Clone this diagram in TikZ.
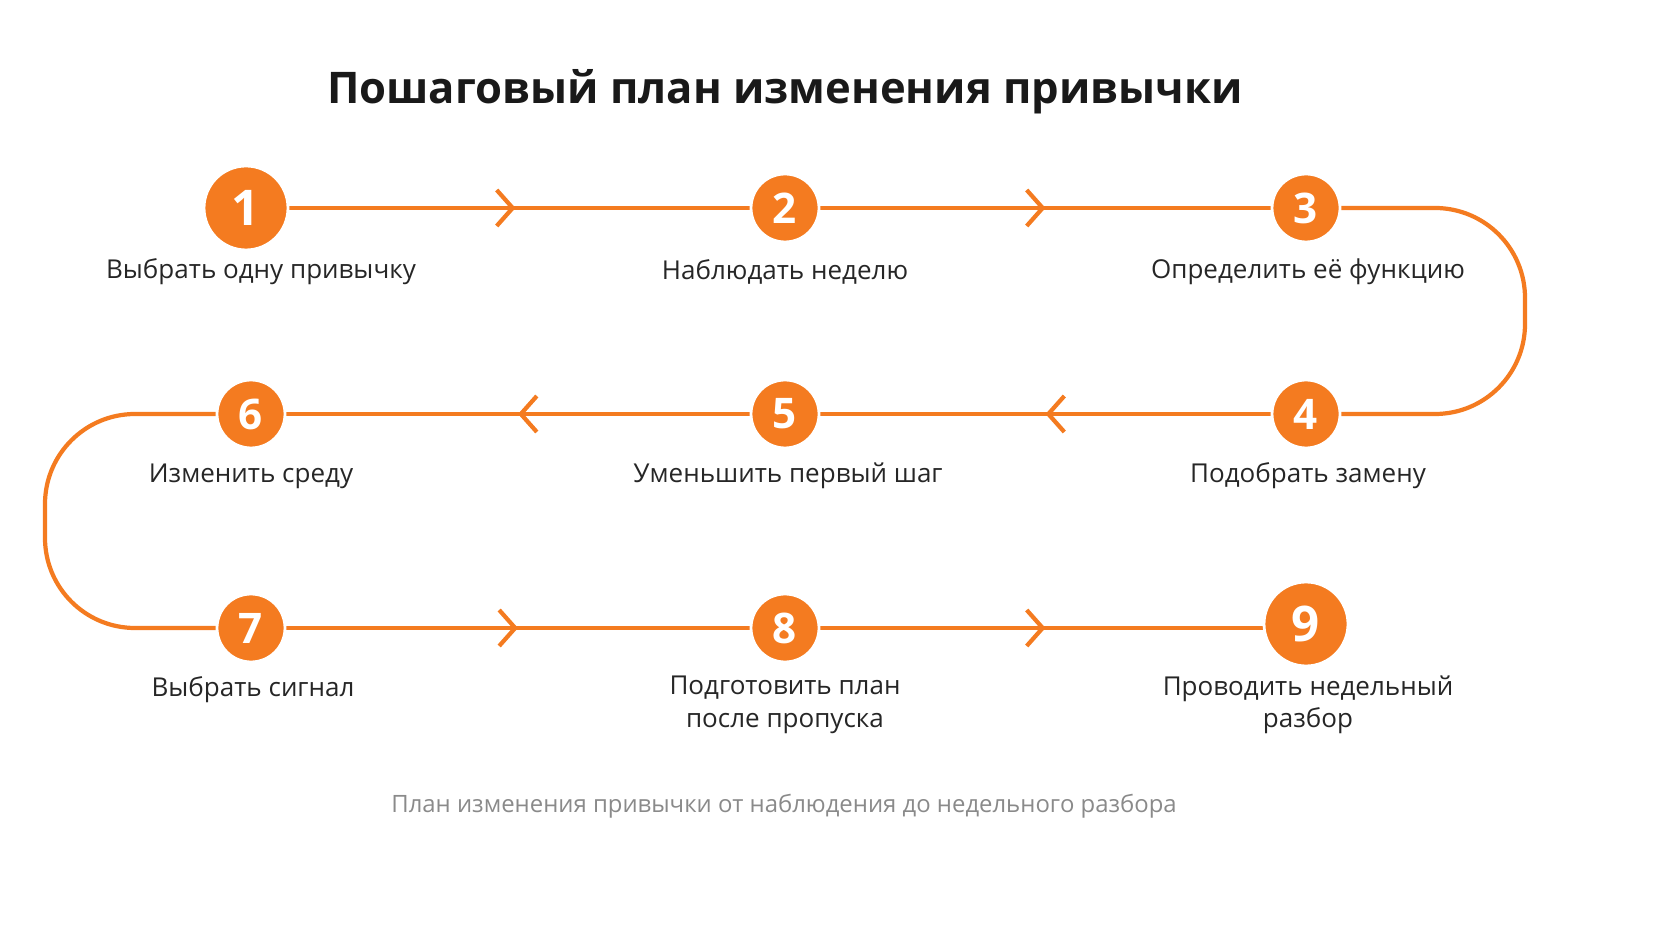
\documentclass[tikz,border=0pt]{standalone}
\usepackage{fontspec}
\setmainfont{Open Sans}
\usetikzlibrary{arrows.meta,positioning,decorations.markings}
\definecolor{orng}{HTML}{F47B20}
\definecolor{capgray}{HTML}{8A8A8A}
\begin{document}
\begin{tikzpicture}[x=1cm,y=1cm]
      % Styles
      \tikzset{stepdot/.style={circle,fill=orng,draw=white,line width=0.8pt,minimum size=0.68cm,inner sep=0pt,
                 text=white,font=\fontsize{12}{14}\selectfont\bfseries},
               bigdot/.style={stepdot,minimum size=0.84cm,font=\fontsize{14}{16}\selectfont\bfseries},
               lbl/.style={font=\fontsize{7.4}{9.2}\selectfont,align=center,text=black!85},
               flow/.style={orng,line width=1.2pt,rounded corners=0.9cm,
                 postaction={decorate},decoration={markings,
                 mark=at position 0.5 with {\arrow[line width=1.2pt]{Straight Barb[length=1.6mm,width=3.6mm]}}}},
               plain/.style={orng,line width=1.2pt,rounded corners=0.9cm}}

      % Title and caption
      \node[font=\fontsize{12.4}{15}\selectfont\bfseries,text=black!90] (title) at (7.85,8.49) {Пошаговый план изменения привычки};
      \node[font=\fontsize{6.8}{8}\selectfont,text=capgray] (cap) at (7.84,1.35) {План изменения привычки от наблюдения до недельного разбора};

      % Helper coordinates for the turns
      \coordinate (r1) at (15.25,7.33);
      \coordinate (r2) at (15.25,5.27);
      \coordinate (l1) at (0.45,5.27);
      \coordinate (l2) at (0.45,3.13);

      % Connectors first, circles on top
      \draw[flow] (2.46,7.33) -- (7.85,7.33);
      \draw[flow] (7.85,7.33) -- (13.06,7.33);
      \draw[plain] (13.06,7.33) -- (r1) -- (r2) -- (13.06,5.27);
      \draw[flow] (13.06,5.27) -- (7.85,5.27);
      \draw[flow] (7.85,5.27) -- (2.51,5.27);
      \draw[plain] (2.51,5.27) -- (l1) -- (l2) -- (2.51,3.13);
      \draw[flow] (2.51,3.13) -- (7.85,3.13);
      \draw[flow] (7.85,3.13) -- (13.06,3.13);

      % Steps
      \node[bigdot] (s1) at (2.46,7.33) {1};
      \node[stepdot] (s2) at (7.85,7.33) {2};
      \node[stepdot] (s3) at (13.06,7.33) {3};
      \node[stepdot] (s4) at (13.06,5.27) {4};
      \node[stepdot] (s5) at (7.85,5.27) {5};
      \node[stepdot] (s6) at (2.51,5.27) {6};
      \node[stepdot] (s7) at (2.51,3.13) {7};
      \node[stepdot] (s8) at (7.85,3.13) {8};
      \node[bigdot] (s9) at (13.06,3.17) {9};

      % Labels
      \node[lbl] (t1) at (2.61,6.69) {Выбрать одну привычку};
      \node[lbl] (t2) at (7.85,6.69) {Наблюдать неделю};
      \node[lbl] (t3) at (13.08,6.69) {Определить её функцию};
      \node[lbl] (t4) at (13.08,4.65) {Подобрать замену};
      \node[lbl] (t5) at (7.88,4.65) {Уменьшить первый шаг};
      \node[lbl] (t6) at (2.51,4.65) {Изменить среду};
      \node[lbl] (t7) at (2.53,2.51) {Выбрать сигнал};
      \node[lbl] (t8) at (7.85,2.36) {Подготовить план\\после пропуска};
      \node[lbl] (t9) at (13.08,2.36) {Проводить недельный\\разбор};

      \pgfresetboundingbox
      \useasboundingbox (0,0) rectangle (16.72,9.41);
\end{tikzpicture}
\end{document}
